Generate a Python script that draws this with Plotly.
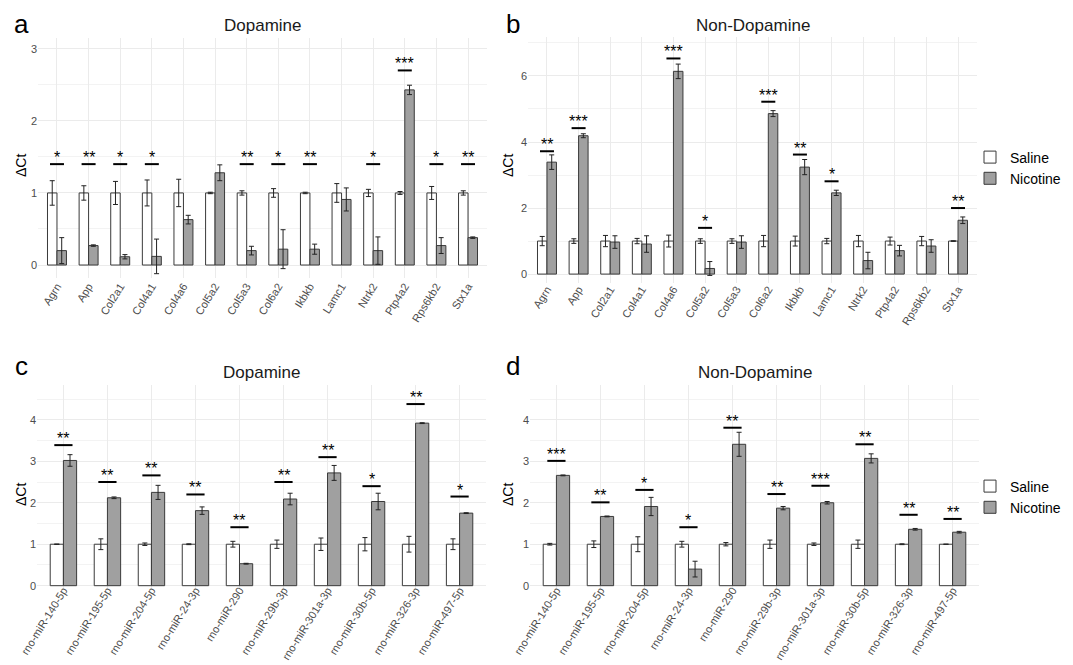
import plotly.graph_objects as go

# The page adds an 8px body margin, so the figure is drawn 8px in from the
# top-left corner; coordinates below are measured on the 1073x665 reference.
OFF = 8
W, H = 1073 - OFF, 665 - OFF

# ---------------- data ----------------
genes = ["Agrn", "App", "Col2a1", "Col4a1", "Col4a6", "Col5a2", "Col5a3", "Col6a2",
         "Ikbkb", "Lamc1", "Ntrk2", "Ptp4a2", "Rps6kb2", "Stx1a"]
mirs = ["rno-miR-140-5p", "rno-miR-195-5p", "rno-miR-204-5p", "rno-miR-24-3p", "rno-miR-290",
        "rno-miR-29b-3p", "rno-miR-301a-3p", "rno-miR-30b-5p", "rno-miR-326-3p", "rno-miR-497-5p"]

# panel a: Dopamine, genes
sal_a = [1.0] * 14
sal_err_a = [0.17, 0.10, 0.16, 0.18, 0.19, 0.01, 0.03, 0.06, 0.01, 0.13, 0.05, 0.02, 0.09, 0.03]
nic_a = [0.20, 0.27, 0.115, 0.12, 0.63, 1.28, 0.20, 0.22, 0.22, 0.91, 0.20, 2.43, 0.27, 0.38]
nic_err_a = [0.18, 0.01, 0.03, 0.24, 0.06, 0.11, 0.06, 0.27, 0.07, 0.16, 0.19, 0.065, 0.11, 0.01]
sig_a = ["*", "**", "*", "*", "", "", "**", "*", "**", "", "*", "***", "*", "**"]
sig_y_a = [1.40, 1.40, 1.40, 1.40, None, None, 1.40, 1.40, 1.40, None, 1.40, 2.70, 1.40, 1.40]

# panel b: Non-Dopamine, genes
sal_b = [1.0] * 14
sal_err_b = [0.14, 0.07, 0.17, 0.08, 0.18, 0.07, 0.07, 0.17, 0.15, 0.08, 0.17, 0.12, 0.14, 0.01]
nic_b = [3.39, 4.19, 0.97, 0.91, 6.14, 0.17, 0.97, 4.86, 3.24, 2.46, 0.41, 0.71, 0.85, 1.63]
nic_err_b = [0.22, 0.06, 0.19, 0.25, 0.22, 0.21, 0.19, 0.09, 0.23, 0.08, 0.25, 0.16, 0.19, 0.10]
sig_b = ["**", "***", "", "", "***", "*", "", "***", "**", "*", "", "", "", "**"]
sig_y_b = [3.72, 4.42, None, None, 6.53, 1.40, None, 5.22, 3.62, 2.81, None, None, None, 2.00]

# panel c: Dopamine, miRNAs
sal_c = [1.0] * 10
sal_err_c = [0.005, 0.13, 0.03, 0.01, 0.07, 0.10, 0.15, 0.16, 0.19, 0.13]
nic_c = [3.02, 2.12, 2.25, 1.81, 0.53, 2.09, 2.72, 2.03, 3.92, 1.75]
nic_err_c = [0.14, 0.02, 0.17, 0.09, 0.01, 0.14, 0.18, 0.20, 0.01, 0.01]
sig_c = ["**", "**", "**", "**", "**", "**", "**", "*", "**", "*"]
sig_y_c = [3.39, 2.50, 2.66, 2.20, 1.41, 2.50, 3.10, 2.40, 4.38, 2.15]

# panel d: Non-Dopamine, miRNAs
sal_d = [1.0] * 10
sal_err_d = [0.02, 0.08, 0.18, 0.07, 0.04, 0.10, 0.03, 0.10, 0.01, 0.0]
nic_d = [2.66, 1.67, 1.91, 0.40, 3.41, 1.87, 2.00, 3.07, 1.36, 1.29]
nic_err_d = [0.01, 0.01, 0.22, 0.19, 0.29, 0.04, 0.03, 0.11, 0.02, 0.02]
sig_d = ["***", "**", "*", "*", "**", "**", "***", "**", "**", "**"]
sig_y_d = [3.01, 2.01, 2.31, 1.41, 3.81, 2.21, 2.41, 3.41, 1.71, 1.61]

titles = ["Dopamine", "Non-Dopamine", "Dopamine", "Non-Dopamine"]
letters = ["a", "b", "c", "d"]

# ---------------- style ----------------
FONT = "Liberation Sans, Arial, Helvetica, sans-serif"
SAL_FILL = "#ffffff"
NIC_FILL = "#a0a0a0"
OUTLINE = "#3a3a3a"
ERR = "#222222"
GRID = "#ebebeb"
MINOR = "#f3f3f3"
TICKC = "#4d4d4d"


def px_x(p):
    return (p - OFF) / W


def px_y(p):
    return 1 - (p - OFF) / H


panels = [
    dict(cats=genes, sal=sal_a, se=sal_err_a, nic=nic_a, ne=nic_err_a, sig=sig_a, sy=sig_y_a,
         xd=(38, 487), yd=(38, 278), yr=(-0.18, 3.15), dt=1, mn=0.5, sl=10, leg=None,
         lf=11, lso=-1),
    dict(cats=genes, sal=sal_b, se=sal_err_b, nic=nic_b, ne=nic_err_b, sig=sig_b, sy=sig_y_b,
         xd=(528, 977), yd=(37, 283), yr=(-0.27, 7.18), dt=2, mn=1, sl=10, leg="legend",
         lf=11, lso=-3),
    dict(cats=mirs, sal=sal_c, se=sal_err_c, nic=nic_c, ne=nic_err_c, sig=sig_c, sy=sig_y_c,
         xd=(37, 486), yd=(385, 589), yr=(-0.08, 4.84), dt=1, mn=0.5, sl=13, leg=None,
         lf=11, lso=-8),
    dict(cats=mirs, sal=sal_d, se=sal_err_d, nic=nic_d, ne=nic_err_d, sig=sig_d, sy=sig_y_d,
         xd=(530, 979), yd=(385, 589), yr=(-0.08, 4.84), dt=1, mn=0.5, sl=13, leg="legend2",
         lf=11, lso=-8),
]

fig = go.Figure()
annotations = []
layout = {}

for i, p in enumerate(panels):
    k = "" if i == 0 else str(i + 1)
    xa, ya = "x" + k, "y" + k
    show = p["leg"] is not None
    for name, vals, errs, fill in [("Saline", p["sal"], p["se"], SAL_FILL),
                                   ("Nicotine", p["nic"], p["ne"], NIC_FILL)]:
        tr = dict(
            x=p["cats"], y=vals, name=name, xaxis=xa, yaxis=ya,
            marker=dict(color=fill, line=dict(color=OUTLINE, width=1)),
            error_y=dict(type="data", array=errs, visible=True, color=ERR, thickness=1, width=2.5),
            showlegend=show, hoverinfo="x+y+name",
        )
        if show:
            tr["legend"] = p["leg"]
        fig.add_trace(go.Bar(**tr))

    sx = [c for c, s in zip(p["cats"], p["sig"]) if s]
    syy = [y for y, s in zip(p["sy"], p["sig"]) if s]
    sst = [s for s in p["sig"] if s]
    fig.add_trace(go.Scatter(
        x=sx, y=syy, mode="markers", xaxis=xa, yaxis=ya, showlegend=False, hoverinfo="skip",
        marker=dict(symbol="line-ew", size=p["sl"], color="black",
                    line=dict(color="black", width=2)),
    ))
    for c, y, s in zip(sx, syy, sst):
        annotations.append(dict(x=c, y=y, xref=xa, yref=ya, text=s, showarrow=False,
                                yanchor="bottom", yshift=-4,
                                font=dict(family=FONT, size=16, color="black")))

    n = len(p["cats"])
    layout["xaxis" + k] = dict(
        domain=[px_x(p["xd"][0]), px_x(p["xd"][1])], anchor=ya, type="category",
        categoryorder="array", categoryarray=p["cats"], range=[-0.6, n - 0.4],
        showgrid=True, gridcolor=GRID, gridwidth=1, zeroline=False, showline=False,
        ticks="", tickangle=-58, automargin=False, ticklabelstandoff=p["lso"],
        tickfont=dict(family=FONT, size=p["lf"], color=TICKC),
    )
    layout["yaxis" + k] = dict(
        domain=[px_y(p["yd"][1]), px_y(p["yd"][0])], anchor=xa, range=list(p["yr"]),
        dtick=p["dt"], tick0=0, showgrid=True, gridcolor=GRID, gridwidth=1,
        zeroline=False, showline=False, ticks="", automargin=False,
        tickfont=dict(family=FONT, size=11, color=TICKC),
        minor=dict(dtick=p["mn"], tick0=0, showgrid=True, gridcolor=MINOR, gridwidth=1),
    )

    cx = (p["xd"][0] + p["xd"][1]) / 2
    ty = 25 if i < 2 else 372
    annotations.append(dict(x=px_x(cx), y=px_y(ty), xref="paper", yref="paper",
                            text=titles[i], showarrow=False, xanchor="center", yanchor="middle",
                            font=dict(family=FONT, size=17, color="#1a1a1a")))
    lx = 21 if i % 2 == 0 else 513
    ly = 24 if i < 2 else 366
    annotations.append(dict(x=px_x(lx), y=px_y(ly), xref="paper", yref="paper",
                            text=letters[i], showarrow=False, xanchor="center", yanchor="middle",
                            font=dict(family=FONT, size=26, color="black")))
    ax = 21 if i % 2 == 0 else 508
    ay = 166 if i < 2 else 495
    annotations.append(dict(x=px_x(ax), y=px_y(ay), xref="paper", yref="paper",
                            text="ΔCt", showarrow=False, xanchor="center", yanchor="middle",
                            textangle=-90, font=dict(family=FONT, size=14, color="black")))

fig.update_layout(
    width=W, height=H,
    margin=dict(l=0, r=0, t=0, b=0),
    paper_bgcolor="white", plot_bgcolor="white",
    barmode="group", bargap=0.4, bargroupgap=0,
    font=dict(family=FONT),
    annotations=annotations,
    legend=dict(x=px_x(970), y=px_y(168), xanchor="left", yanchor="middle",
                font=dict(family=FONT, size=14, color="black"), bgcolor="rgba(0,0,0,0)",
                tracegroupgap=0, itemclick=False),
    legend2=dict(x=px_x(970), y=px_y(497), xanchor="left", yanchor="middle",
                 font=dict(family=FONT, size=14, color="black"), bgcolor="rgba(0,0,0,0)",
                 tracegroupgap=0, itemclick=False),
    **layout,
)

fig.write_html("out.html")
